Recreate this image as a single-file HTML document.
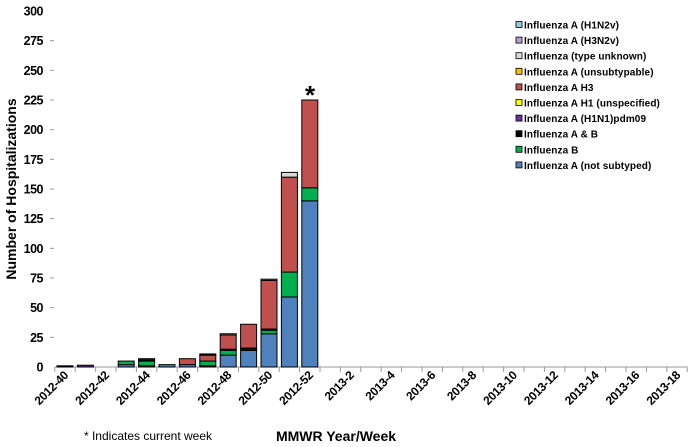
<!DOCTYPE html>
<html><head><meta charset="utf-8"><style>
html,body{margin:0;padding:0;background:#fff;}
svg{display:block;font-family:"Liberation Sans Narrow","Liberation Sans",Arial,sans-serif;}
</style></head><body>
<svg id="c" width="693" height="447" xmlns="http://www.w3.org/2000/svg"></svg>
<script>
var s=document.getElementById('c'),h='';
var y0=367,k=356/300,x0=54.8,w=20.4;
function Y(v){return y0-v*k;}
for(var v=0;v<=300;v+=25){
  var y=Y(v);
  h+='<text x="43" y="'+(y+4.5)+'" text-anchor="end" font-size="12.5" font-weight="bold" fill="#000" style="letter-spacing:-0.5px">'+v+'</text>';
  if(v>0&&v<300)h+='<line x1="50" x2="54" y1="'+y+'" y2="'+y+'" stroke="#999"/>';
}
h+='<line x1="'+x0+'" x2="687.5" y1="'+y0+'" y2="'+y0+'" stroke="#999"/>';
for(var i=0;i<=31;i++){var x=x0+w*i;h+='<line x1="'+x+'" x2="'+x+'" y1="'+y0+'" y2="'+(y0+5)+'" stroke="#999"/>';}
var labels=['2012-40','2012-42','2012-44','2012-46','2012-48','2012-50','2012-52','2013-2','2013-4','2013-6','2013-8','2013-10','2013-12','2013-14','2013-16','2013-18'];
for(var j=0;j<labels.length;j++){
  var cx=x0+w*(2*j)+w/2+4, cy=y0+9;
  h+='<text x="'+cx+'" y="'+cy+'" text-anchor="end" font-size="12" font-weight="bold" transform="rotate(-45 '+cx+' '+cy+')" style="letter-spacing:-0.3px">'+labels[j]+'</text>';
}
var B='#4f81bd',G='#00b050',K='#000',R='#c0504d',P='#7030a0',GR='#d9d9d9';
var d=[
 [[1,K]],
 [[1.5,P]],
 [],
 [[2,B],[3,G]],
 [[1,B],[4,G],[1,K],[1,R]],
 [[2,B]],
 [[2,B],[5,R]],
 [[1,B],[4,G],[5,R],[1,K]],
 [[10,B],[4,G],[1,K],[12,R],[1,GR]],
 [[14,B],[1,G],[1,K],[20,R]],
 [[28,B],[3,G],[1,P],[41,R],[1,GR]],
 [[59,B],[21,G],[80,R],[4,GR]],
 [[140,B],[11,G],[74,R]]
];
for(var i=0;i<d.length;i++){
  var bx=x0+w*i+2.2,acc=0;
  for(var q=0;q<d[i].length;q++){
    var v=d[i][q][0],c=d[i][q][1];
    h+='<rect x="'+bx+'" y="'+Y(acc+v)+'" width="16" height="'+(v*k)+'" fill="'+c+'" stroke="#000" stroke-width="1"/>';
    acc+=v;
  }
}
h+='<text x="310" y="104" text-anchor="middle" font-size="26" font-weight="bold">*</text>';
h+='<text transform="translate(16 189) rotate(-90)" text-anchor="middle" font-size="14" font-weight="bold">Number of Hospitalizations</text>';
h+='<text x="336" y="441" text-anchor="middle" font-size="14" font-weight="bold">MMWR Year/Week</text>';
h+='<text x="148" y="440" text-anchor="middle" font-size="12" fill="#000">* Indicates current week</text>';
var L=[['#93cddd','Influenza A (H1N2v)'],['#b3a2c7','Influenza A (H3N2v)'],['#d9d9d9','Influenza (type unknown)'],['#ffc000','Influenza A (unsubtypable)'],[R,'Influenza A H3'],['#ffff00','Influenza A H1 (unspecified)'],[P,'Influenza A (H1N1)pdm09'],[K,'Influenza A &amp; B'],[G,'Influenza B'],[B,'Influenza A (not subtyped)']];
for(var i=0;i<L.length;i++){
  var ly=25+i*15.6;
  h+='<rect x="516" y="'+(ly-3.5)+'" width="6" height="6" fill="'+L[i][0]+'" stroke="#000" stroke-width="0.8"/>';
  h+='<text x="524" y="'+(ly+3.5)+'" font-size="10" font-weight="bold" style="letter-spacing:0.1px">'+L[i][1]+'</text>';
}
s.innerHTML=h;
</script>
</body></html>
